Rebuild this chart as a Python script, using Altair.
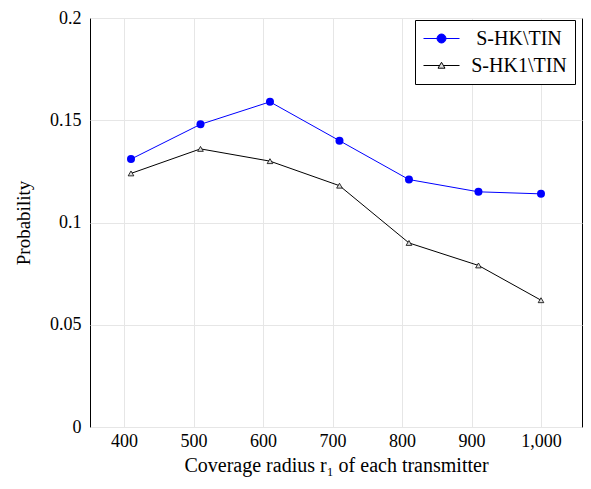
import altair as alt
import pandas as pd

radius = [410, 510, 610, 710, 810, 910, 1000]
s_hk_tin = [0.131, 0.148, 0.159, 0.140, 0.121, 0.115, 0.114]
s_hk1_tin = [0.124, 0.136, 0.130, 0.118, 0.090, 0.079, 0.062]
series_names = ["S-HK\\TIN", "S-HK1\\TIN"]

df = pd.DataFrame({
    "r": radius * 2,
    "p": s_hk_tin + s_hk1_tin,
    "series": [series_names[0]] * len(radius) + [series_names[1]] * len(radius),
})

FONT = "Liberation Serif"

xenc = alt.X("r:Q", scale=alt.Scale(domain=[351, 1059], nice=False, zero=False),
             axis=alt.Axis(values=[400, 500, 600, 700, 800, 900, 1000], format=",.0f",
                           title="Coverage radius r\u2081 of each transmitter",
                           grid=True, ticks=False, domain=False, labelPadding=5,
                           titlePadding=5, labelFont=FONT, titleFont=FONT,
                           labelFontSize=18, titleFontSize=20))
yenc = alt.Y("p:Q", scale=alt.Scale(domain=[0, 0.2], nice=False),
             axis=alt.Axis(values=[0, 0.05, 0.1, 0.15, 0.2], format=".2~f",
                           title="Probability", grid=True, ticks=False, domain=False,
                           labelPadding=9, titlePadding=16, labelFont=FONT, titleFont=FONT,
                           labelFontSize=18, titleFontSize=19))

base = alt.Chart(df).encode(x=xenc, y=yenc)

f1 = alt.FieldEqualPredicate(field="series", equal=series_names[0])
f2 = alt.FieldEqualPredicate(field="series", equal=series_names[1])

blue_line = base.transform_filter(f1).mark_line(color="#0000ff", strokeWidth=1)
blue_pts = base.transform_filter(f1).mark_point(shape="circle", filled=True, color="#0000ff",
                                                size=64, opacity=1)
black_line = base.transform_filter(f2).mark_line(color="black", strokeWidth=1)
black_pts = base.transform_filter(f2).mark_point(shape="triangle-up", fill="#dddddd",
                                                 stroke="black", strokeWidth=0.8,
                                                 size=32, opacity=1, filled=False)

# legend symbols: a short line with the marker in the middle
circle_path = ("M-1.8,0H-0.45M0.45,0H1.8"
               "M0.45,0A0.45,0.45,0,1,1,-0.45,0A0.45,0.45,0,1,1,0.45,0Z")
tri_path = "M-1.8,0H-0.2M0.2,0H1.8M-0.35,0.27L0.35,0.27L0,-0.32Z"

legend = alt.Legend(title=None, orient="none", legendX=325, legendY=2,
                    strokeColor="black", fillColor="white", padding=8,
                    symbolSize=400, symbolStrokeWidth=1, symbolOpacity=1,
                    symbolOffset=8,
                    labelFont=FONT, labelFontSize=20, labelOffset=67,
                    labelAlign="center", rowPadding=6, labelLimit=300,
                    cornerRadius=0)

legend_layer = base.mark_point(opacity=0, filled=False, size=400).encode(
    shape=alt.Shape("series:N", scale=alt.Scale(domain=series_names, range=[circle_path, tri_path]),
                    legend=legend),
    stroke=alt.Stroke("series:N", scale=alt.Scale(domain=series_names, range=["#0000ff", "black"]),
                      legend=legend),
    fill=alt.Fill("series:N", scale=alt.Scale(domain=series_names, range=["#0000ff", "#dddddd"]),
                  legend=legend),
)

chart = alt.layer(blue_line, black_line, blue_pts, black_pts, legend_layer).properties(
    width=492, height=409,
    padding={"left": 82, "top": 10, "right": 1, "bottom": 51},
    autosize=alt.AutoSizeParams(type="none"),
).configure_view(stroke="black", strokeWidth=1).configure_axis(
    labelFont=FONT, titleFont=FONT,
    labelColor="black", titleColor="black", titleFontWeight="normal",
    gridColor="#e6e6e6", gridWidth=1,
)

chart.save("out.html", embed_options={"renderer": "svg", "actions": False})
